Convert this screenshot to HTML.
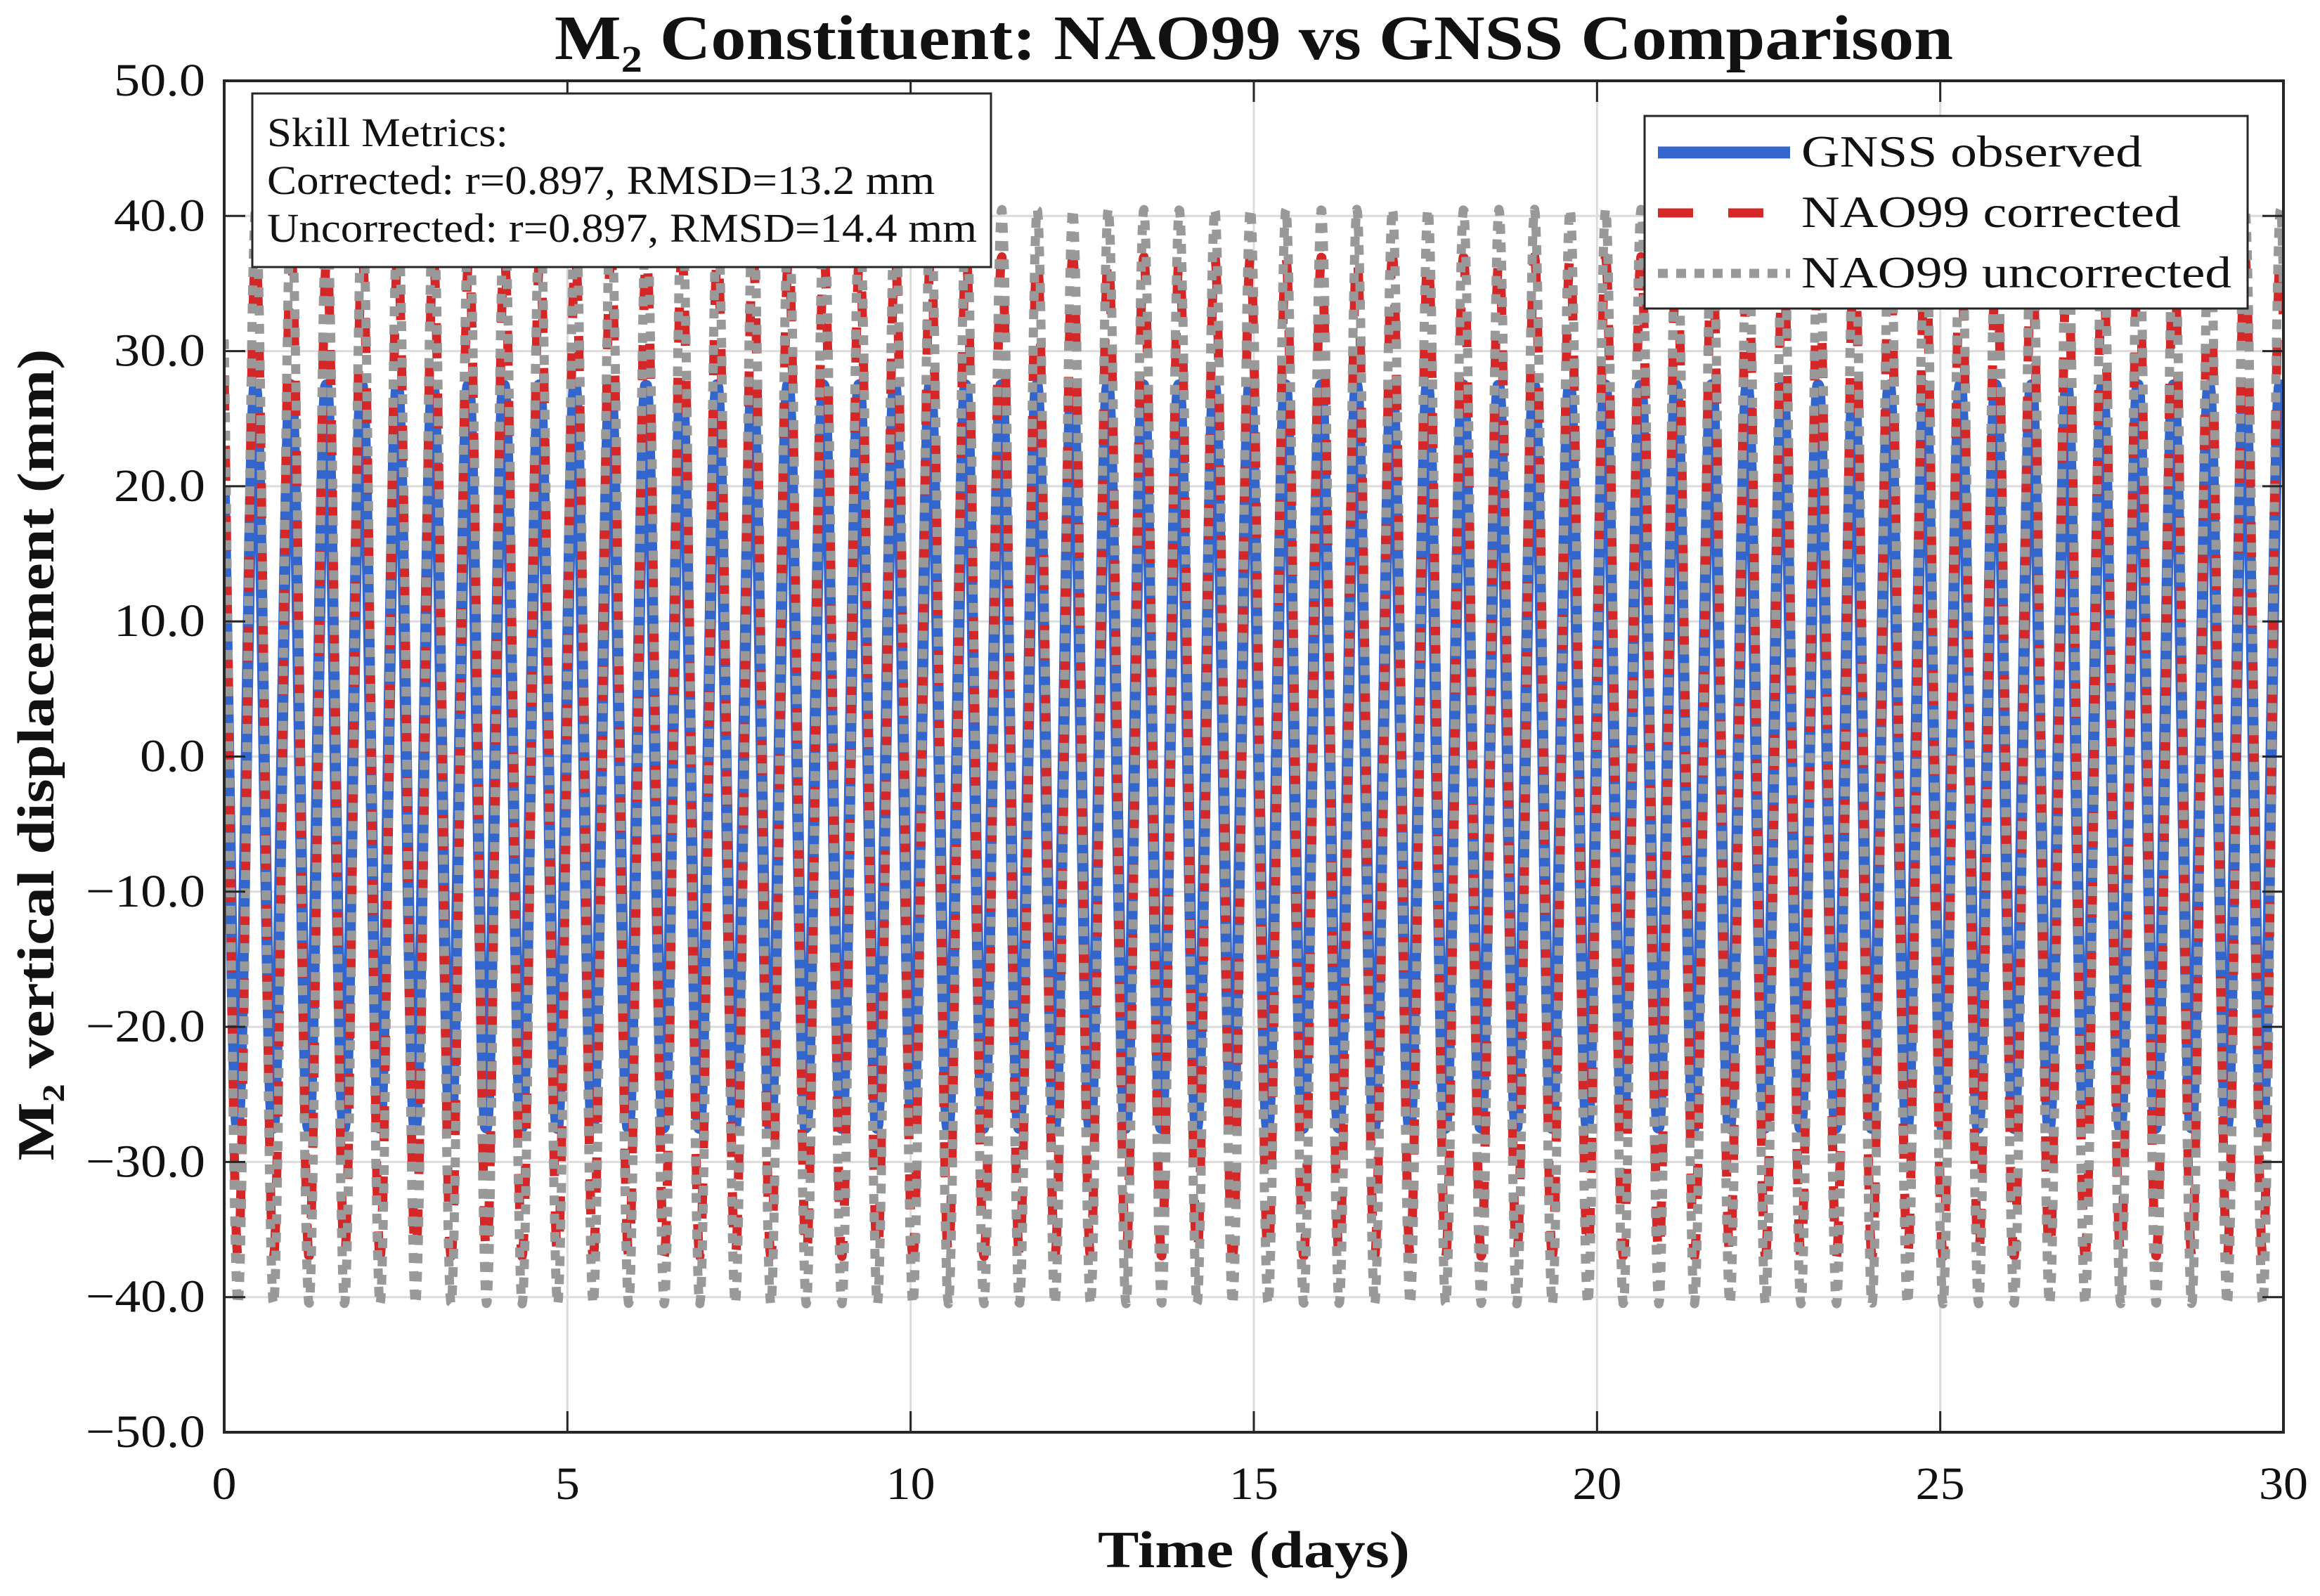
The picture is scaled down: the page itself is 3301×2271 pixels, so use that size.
<!DOCTYPE html>
<html><head><meta charset="utf-8">
<style>
html,body{margin:0;padding:0;background:#fff;}
svg{display:block;font-family:"Liberation Serif","Times New Roman","DejaVu Serif",serif;}
</style></head>
<body>
<svg id="chart" width="3301" height="2271" viewBox="0 0 3301 2271" xmlns="http://www.w3.org/2000/svg">
<defs><clipPath id="plotclip"><rect x="319" y="115" width="2930" height="1923"/></clipPath></defs>
<rect x="0" y="0" width="3301" height="2271" fill="#fff"/>
<g id="grid"></g>
<g id="series" clip-path="url(#plotclip)"></g>
<rect x="319" y="115" width="2930" height="1923" fill="none" stroke="#262626" stroke-width="4"/>
<g id="ticks"></g>
<text x="1784" y="84" text-anchor="middle" font-weight="bold" font-size="90" textLength="1990" lengthAdjust="spacingAndGlyphs" fill="#111">M₂ Constituent: NAO99 vs GNSS Comparison</text>
<text transform="translate(76,1074) rotate(-90)" text-anchor="middle" font-weight="bold" font-size="74" textLength="1155" lengthAdjust="spacingAndGlyphs" fill="#111">M₂ vertical displacement (mm)</text>
<text x="1784" y="2230" text-anchor="middle" font-weight="bold" font-size="74" textLength="444" lengthAdjust="spacingAndGlyphs" fill="#111">Time (days)</text>
<g>
<rect x="359" y="133" width="1051" height="247" fill="#fff" stroke="#262626" stroke-width="3"/>
<text x="380" y="208" font-size="58" textLength="343" lengthAdjust="spacingAndGlyphs" fill="#111">Skill Metrics:</text>
<text x="380" y="276" font-size="58" textLength="950" lengthAdjust="spacingAndGlyphs" fill="#111">Corrected: r=0.897, RMSD=13.2 mm</text>
<text x="380" y="344" font-size="58" textLength="1010" lengthAdjust="spacingAndGlyphs" fill="#111">Uncorrected: r=0.897, RMSD=14.4 mm</text>
</g>
<g>
<rect x="2340" y="165" width="858" height="274" fill="#fff" stroke="#262626" stroke-width="3"/>
<line x1="2359" y1="217" x2="2547" y2="217" stroke="#3366cc" stroke-width="17"/>
<line x1="2359" y1="303" x2="2547" y2="303" stroke="#d62728" stroke-width="13" stroke-dasharray="50,50"/>
<line x1="2359" y1="389" x2="2547" y2="389" stroke="#999" stroke-width="13" stroke-dasharray="14,12"/>
<text x="2563" y="237" font-size="64" fill="#111" textLength="485" lengthAdjust="spacingAndGlyphs">GNSS observed</text>
<text x="2563" y="323" font-size="64" fill="#111" textLength="540" lengthAdjust="spacingAndGlyphs">NAO99 corrected</text>
<text x="2563" y="409" font-size="64" fill="#111" textLength="612" lengthAdjust="spacingAndGlyphs">NAO99 uncorrected</text>
</g>
</svg>
<script>
// ---- data ----
const xTicks = [0, 5, 10, 15, 20, 25, 30];
const yTicks = [-50, -40, -30, -20, -10, 0, 10, 20, 30, 40, 50];
const seriesNames = ["GNSS observed", "NAO99 corrected", "NAO99 uncorrected"];
const amplitudes = [27.5, 37.0, 40.5];        // mm
const phaseLagDays = [-0.065, -0.058, -0.058]; // time of a crest, days
const periodDays = [0.5175, 0.5175, 0.5175];  // M2 period
const durationDays = 30;

// ---- axes ----
const PL = 319, PR = 3249, PT = 115, PB = 2038;
const xMin = 0, xMax = 30, yMin = -50, yMax = 50;
function xs(v){ return PL + (v - xMin) / (xMax - xMin) * (PR - PL); }
function ys(v){ return PB - (v - yMin) / (yMax - yMin) * (PB - PT); }
const NS = "http://www.w3.org/2000/svg";
const grid = document.getElementById('grid');
const ticks = document.getElementById('ticks');
const series = document.getElementById('series');

xTicks.forEach(t => {
  const g = document.createElementNS(NS, 'line');
  g.setAttribute('x1', xs(t)); g.setAttribute('x2', xs(t));
  g.setAttribute('y1', PT); g.setAttribute('y2', PB);
  g.setAttribute('stroke', '#dcdcdc'); g.setAttribute('stroke-width', '3');
  
  
  grid.appendChild(g);
  [[PB, PB - 30], [PT, PT + 30]].forEach(p => {
    const k = document.createElementNS(NS, 'line');
    k.setAttribute('x1', xs(t)); k.setAttribute('x2', xs(t));
    k.setAttribute('y1', p[0]); k.setAttribute('y2', p[1]);
    k.setAttribute('stroke', '#262626'); k.setAttribute('stroke-width', '3');
    
    
    ticks.appendChild(k);
  });
  const l = document.createElementNS(NS, 'text');
  const s = String(t);
  l.setAttribute('x', xs(t)); l.setAttribute('y', 2133);
  l.setAttribute('text-anchor', 'middle'); l.setAttribute('font-size', '66');
  l.setAttribute('textLength', s.length * 35); l.setAttribute('lengthAdjust', 'spacingAndGlyphs');
  l.setAttribute('fill', '#111');
  l.textContent = s;
  
  
  ticks.appendChild(l);
});
yTicks.forEach(t => {
  const g = document.createElementNS(NS, 'line');
  g.setAttribute('x1', PL); g.setAttribute('x2', PR);
  g.setAttribute('y1', ys(t)); g.setAttribute('y2', ys(t));
  g.setAttribute('stroke', '#dcdcdc'); g.setAttribute('stroke-width', '3');
  
  
  grid.appendChild(g);
  [[PL, PL + 30], [PR, PR - 30]].forEach(p => {
    const k = document.createElementNS(NS, 'line');
    k.setAttribute('x1', p[0]); k.setAttribute('x2', p[1]);
    k.setAttribute('y1', ys(t)); k.setAttribute('y2', ys(t));
    k.setAttribute('stroke', '#262626'); k.setAttribute('stroke-width', '3');
    
    
    ticks.appendChild(k);
  });
  const l = document.createElementNS(NS, 'text');
  const neg = t < 0;
  const body = Math.abs(t).toFixed(1);
  const w = (body.length - 1) * 37 + 19 + (neg ? 40 : 0);
  l.setAttribute('x', 292); l.setAttribute('y', ys(t) + 21);
  l.setAttribute('text-anchor', 'end'); l.setAttribute('font-size', '66');
  l.setAttribute('textLength', w); l.setAttribute('lengthAdjust', 'spacingAndGlyphs');
  l.setAttribute('fill', '#111');
  l.textContent = (neg ? '\u2212' + body : body);
  
  
  ticks.appendChild(l);
});

const styles = [
  {stroke:'#3366cc', w:16, dash:null, name:'gnss-observed-line'},
  {stroke:'#d62728', w:13, dash:'50,50', name:'nao99-corrected-line'},
  {stroke:'#999999', w:13, dash:'14,12', name:'nao99-uncorrected-line'}
];
[0, 1, 2].forEach(i => {
  const n = 3000, pts = [];
  for (let j = 0; j <= n; j++) {
    const t = durationDays * j / n;
    const v = amplitudes[i] * Math.cos(2 * Math.PI * (t - phaseLagDays[i]) / periodDays[i]);
    pts.push(xs(t).toFixed(1) + ',' + ys(v).toFixed(1));
  }
  const p = document.createElementNS(NS, 'polyline');
  p.setAttribute('points', pts.join(' '));
  p.setAttribute('fill', 'none');
  p.setAttribute('stroke', styles[i].stroke);
  p.setAttribute('stroke-width', styles[i].w);
  p.setAttribute('stroke-linejoin', 'round');
  if (styles[i].dash) p.setAttribute('stroke-dasharray', styles[i].dash);
  
  
  series.appendChild(p);
});
</script>
</body></html>
